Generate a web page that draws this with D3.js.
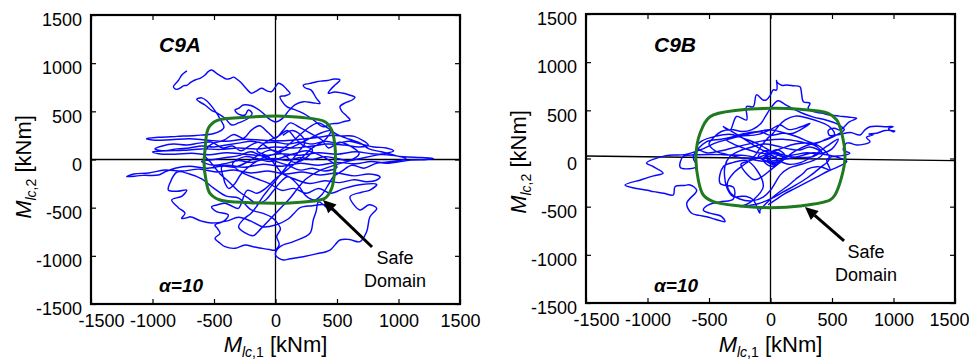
<!DOCTYPE html>
<html>
<head>
<meta charset="utf-8">
<script src="https://cdn.jsdelivr.net/npm/d3@7"></script>
<style>
body { margin: 0; background: #fff; }
text { font-family: "Liberation Sans", Arial, sans-serif; fill: #000; }
</style>
</head>
<body>
<svg id="chart" width="969" height="361"></svg>
<script>
// axis ticks (kNm)
const ticks = [-1500, -1000, -500, 0, 500, 1000, 1500];

const c9aPath = [
 [-720,920],[-760,880],[-790,820],[-830,755],[-805,728],[-770,745],[-750,765],[-720,770],[-690,800],[-654,825],[-610,845],[-573,877],[-545,915],[-519,929],[-480,895],[-437,860],[-400,835],[-370,840],[-340,855],[-310,830],[-275,791],[-240,740],[-210,700],[-194,687],[-150,715],[-112,739],[-70,712],[-31,704],[-5,745],[23,791],[60,770],[90,730],[118,687],[80,662],[37,652],[55,600],[91,548],[150,520],[226,479],[300,420],[389,340],[450,370],[511,376],[560,395],[606,410],[580,450],[540,500],[524,548],[570,590],[620,615],[646,646],[600,670],[540,690],[480,700],[429,687],[450,730],[490,780],[524,825],[480,835],[420,820],[380,815],[335,808],[280,790],[226,773],[240,745],[290,720],[330,640],[362,583],[300,590],[226,600],[160,570],[110,510],[60,430],[0,390],[-60,430],[-100,480],[-140,520],[-200,560],[-262,566],[-300,530],[-329,514],[-300,470],[-248,462],[-221,514],[-190,480],[-230,420],[-300,380],[-356,358],[-410,428],[-470,480],[-520,510],[-573,566],[-620,600],[-641,625],[-600,640],[-560,610],[-500,520],[-450,420],[-420,330],[-500,270],[-650,250],[-800,240],[-950,230],[-1049,216],[-980,200],[-850,205],[-700,215],[-550,200],[-400,190],[-250,210],[-100,200],[50,195],[200,210],[350,230],[450,250],[550,245],[640,240],[754,150],[680,130],[560,150],[420,160],[300,140],[150,120],[0,130],[-150,110],[-300,120],[-450,105],[-600,110],[-750,95],[-880,90],[-1000,80],[-950,60],[-820,55],[-680,65],[-540,50],[-400,70],[-250,55],[-100,40],[50,60],[200,45],[350,70],[500,55],[650,80],[780,60],[900,50],[1040,29],[1180,20],[1284,10],[1230,0],[1100,-5],[904,-39],[780,-20],[650,-45],[500,-30],[350,-60],[200,-40],[50,-70],[-100,-50],[-250,-80],[-400,-60],[-550,-90],[-700,-70],[-817,-91],[-900,-130],[-953,-161],[-1080,-165],[-1210,-178],[-1150,-150],[-1030,-140],[-900,-110],[-760,-120],[-620,-100],[-480,-130],[-340,-110],[-200,-140],[-60,-120],[80,-150],[220,-130],[360,-160],[500,-140],[640,-170],[760,-150],[850,-180],[823,-213],[740,-230],[640,-210],[520,-240],[400,-220],[280,-250],[150,-200],[60,-150],[0,-60],[-60,30],[-150,90],[-80,180],[20,240],[100,300],[160,220],[220,150],[300,100],[250,20],[150,-30],[80,40],[-30,100],[-120,60],[-220,-20],[-330,-80],[-437,-75],[-420,-200],[-410,-247],[-380,-300],[-330,-250],[-280,-150],[-200,-60],[-100,20],[0,60],[120,120],[250,200],[380,280],[450,300],[400,200],[300,120],[200,0],[100,-100],[0,-200],[-80,-300],[-150,-350],[-230,-320],[-302,-507],[-360,-480],[-410,-455],[-470,-470],[-519,-490],[-480,-540],[-384,-576],[-420,-640],[-492,-680],[-470,-720],[-451,-766],[-492,-818],[-450,-870],[-410,-905],[-329,-922],[-248,-888],[-180,-905],[-112,-922],[-50,-935],[-4,-940],[30,-880],[10,-800],[40,-720],[10,-650],[-30,-600],[-100,-560],[-200,-520],[-300,-400],[-400,-380],[-500,-300],[-600,-200],[-700,-150],[-800,-130],[-860,-250],[-871,-317],[-800,-330],[-722,-317],[-760,-380],[-844,-420],[-790,-500],[-736,-558],[-763,-610],[-720,-605],[-695,-594],[-600,-640],[-520,-660],[-400,-640],[-300,-600],[-200,-640],[-100,-700],[0,-680],[100,-620],[150,-560],[200,-500],[300,-480],[400,-470],[498,-542],[420,-500],[350,-440],[330,-540],[307,-628],[280,-766],[150,-850],[37,-905],[0,-990],[63,-1043],[120,-1030],[226,-1009],[330,-980],[443,-940],[524,-836],[600,-830],[687,-853],[741,-750],[768,-594],[823,-507],[760,-470],[687,-524],[606,-386],[700,-340],[768,-317],[823,-260],[700,-260],[560,-300],[450,-350],[350,-300],[250,-350],[150,-300],[50,-320],[-50,-250],[-150,-200],[-250,-150],[-350,-50],[-250,30],[-150,10],[-50,-20],[50,20],[150,60],[250,90],[350,50],[450,-20],[500,-80],[400,-120],[300,-90],[200,-110],[100,-60],[0,-20],[-100,30],[-200,80],[-300,40],[-400,20],[-500,0],[-600,-20],[-500,-60],[-400,-40],[-300,-10],[-200,-30],[-100,0],[0,10],[100,-10],[200,20],[300,0],[400,30],[500,10],[600,-10],
 [680,60],[620,130],[520,180],[430,120],[380,200],[300,260],[200,330],[120,380],[60,300],[0,220],[-60,280],[-130,350],[-200,300],[-260,220],[-340,260],[-420,200],[-520,160],[-580,60],[-520,-40],[-450,-150],[-380,-230],[-300,-330],[-220,-400],[-150,-460],[-80,-420],[-20,-330],[30,-250],[100,-180],[180,-260],[250,-380],[320,-420],[380,-360],[430,-260],[470,-180],[540,-120],[620,-60],[720,-90],[820,-40],[950,-20],[1060,10],[980,40],[860,80],[760,110],[690,170],[600,210],[500,260],[420,330],[350,380],[280,340],[220,280],[150,200],[80,130],[10,80],[-60,120],[-130,180],[-200,150],[-280,90],[-350,140],[-430,120],[-520,180],[-620,170],[-720,150],[-830,160],[-920,140],[-980,110],[-900,90],[-800,110],[-700,120],[-600,140],[-500,130],[-400,150],[-300,170],[-200,190],[-100,170],[0,180],[100,160],[200,180],[300,160],[400,190],[500,170],[600,190],[700,160],[800,130],[900,120],[960,90],[800,40],[650,0],[500,-50],[350,-120],[250,-200],[180,-300],[120,-400],[60,-480],[0,-560],[-60,-640],[-120,-720],[-180,-790],[-250,-760],[-300,-700],[-260,-620],[-200,-560],[-150,-480],[-100,-380],[-50,-300],[0,-220],[50,-140],[100,-60],[150,20],[200,100],[240,180],[200,260],[130,300],[60,250]
];

const c9bPath = [
 [0,0],[60,40],[-40,80],[-100,20],[50,-40],[120,30],[-20,60],[-150,150],[-260,240],[-385,332],[-329,296],[-276,436],[-194,400],[-195,540],[-140,538],[-114,661],[-59,607],[-33,609],[0,660],[22,713],[50,711],[49,810],[50,797],[90,760],[132,763],[185,755],[240,745],[252,680],[267,590],[321,573],[306,522],[348,486],[415,471],[484,452],[560,440],[630,430],[701,417],[640,380],[565,296],[520,315],[470,290],[480,240],[560,250],[650,270],[728,244],[770,300],[809,330],[870,335],[940,330],[997,332],[960,310],[998,278],[1011,285],[930,290],[863,262],[800,255],[835,246],[780,220],[809,174],[700,140],[645,160],[618,159],[592,88],[645,55],[580,30],[500,20],[457,-16],[484,-119],[420,-90],[375,-85],[300,-110],[267,-154],[200,-220],[132,-293],[80,-340],[23,-397],[-30,-460],[-85,-535],[-87,-567],[-141,-429],[-195,-394],[-249,-394],[-304,-394],[-358,-290],[-371,-83],[-330,20],[-250,80],[-150,120],[-50,150],[50,130],[150,100],[240,88],[320,120],[402,71],[347,21],[250,10],[157,21],[80,40],[20,10],[-30,-30],[40,-60],[100,0],[60,60],[-20,40],[-60,-10],[0,-80],[80,-40],[120,30],[50,90],[-10,50],[-50,0],[-200,30],[-400,40],[-600,38],[-710,21],[-737,-83],[-722,-102],[-600,-85],[-628,19],[-519,174],[-400,200],[-302,226],[-200,250],[-85,278],[0,240],[100,262],[185,262],[321,365],[250,330],[150,300],[77,348],[0,300],[-100,250],[-250,230],[-358,194],[-450,160],[-550,100],[-700,40],[-850,30],[-1008,-48],[-960,-80],[-873,-152],[-950,-180],[-1050,-220],[-1183,-275],[-1102,-309],[-1000,-330],[-953,-344],[-870,-360],[-790,-379],[-776,-293],[-700,-280],[-654,-275],[-600,-330],[-681,-465],[-641,-569],[-580,-590],[-519,-604],[-450,-630],[-370,-656],[-400,-600],[-493,-567],[-546,-535],[-500,-480],[-410,-450],[-302,-420],[-300,-300],[-410,-257],[-384,-85],[-300,-40],[-200,-20],[-112,-119],[-59,-293],[-140,-431],[-200,-480],[-250,-500],[-100,-470],[0,-420],[100,-350],[200,-280],[300,-200],[400,-100],[480,0],[401,125],[300,180],[211,228],[100,270],[-5,298],[-100,280],[-195,263],[-300,230],[-358,194],[-300,150],[-200,100],[-100,60],[0,40],[60,-20],[30,-50],[-30,0],[10,30],[50,-10],[150,-60],[250,-40],[350,30],[455,125],[550,200],[500,100],[400,50],[300,60],[200,40],[100,20],
 [0,80],[-100,150],[-200,200],[-320,250],[-450,230],[-560,180],[-600,120],[-520,60],[-400,80],[-280,120],[-150,160],[-30,190],[100,200],[220,180],[350,150],[450,200],[520,250],[480,330],[400,380],[300,420],[200,440],[120,400],[60,330],[20,260],[-30,200],[-80,120],[-120,40],[-200,-50],[-300,-150],[-350,-250],[-330,-350],[-250,-420],[-150,-440],[-60,-400],[0,-330],[40,-250],[80,-170],[150,-100],[250,-60],[350,-20],[420,40],[380,120],[300,160],[200,150],[100,110],[0,60],[-80,20],[-160,-20],[-240,-60],[-200,-150],[-130,-220],[-60,-180],[0,-120],[60,-60],[120,0],[180,60],[250,110],[330,150],[420,180],[500,220],[560,260],[600,300],[540,360],[450,400],[350,430],[260,470],[180,520],[120,560],[60,600],[0,520],[-40,440],[-80,360],[-150,300],[-230,280],[-320,300],[-400,280],[-460,220],[-500,150],[-450,80],[-350,40],[-250,10],[-150,-10],[-50,-30],[50,-20],[150,0],[250,30],[350,60],[450,40],[550,10],[620,-30],[560,-80],[470,-130],[380,-190],[290,-250],[200,-310],[110,-370],[40,-430],[-20,-480]
];

// safe domain outlines
const c9aSafe = [[-478,403],[-546,324],[-573,99],[-581,-39],[-565,-213],[-533,-351],[-451,-420],[-207,-448],[10,-455],[254,-438],[402,-403],[457,-299],[484,-75],[484,133],[457,306],[402,392],[199,438],[10,452],[-234,438]];
const c9bSafe = [[-492,434],[-573,262],[-606,19],[-587,-223],[-546,-379],[-465,-448],[-248,-493],[4,-511],[240,-493],[484,-431],[524,-379],[579,-189],[606,19],[579,262],[538,400],[470,469],[240,511],[4,521],[-248,503]];

// zero lines (the C9B horizontal one is slightly tilted in the original)
const c9aZero = [[-1500,0],[1500,0]];
const c9bZero = [[-1500,26],[1500,-23]];

// "Safe Domain" arrows: [tail, tip]
const c9aArrow = [[785,-908],[386,-420]];
const c9bArrow = [[598,-856],[280,-503]];

const panels = [
    {name: "C9A", ox: 91, oy: 15, path: c9aPath, safe: c9aSafe, zero: c9aZero, arrow: c9aArrow,
     labelX: 395, labelY: 264, ylabY: 167},
    {name: "C9B", ox: 586, oy: 14, path: c9bPath, safe: c9bSafe, zero: c9bZero, arrow: c9bArrow,
     labelX: 866, labelY: 258, ylabY: 162}
];

const W = 369, H = 289;
const svg = d3.select("#chart");

panels.forEach((p, pi) => {
    const x = d3.scaleLinear().domain([-1500, 1500]).range([0, W]);
    const y = d3.scaleLinear().domain([-1500, 1500]).range([H, 0]);
    const g = svg.append("g").attr("transform", `translate(${p.ox},${p.oy})`);

    const line = d3.line().x(d => x(d[0])).y(d => y(d[1]));

    // zero lines
    g.append("path").attr("d", line(p.zero))
        .attr("stroke", "#000").attr("stroke-width", 1.3).attr("fill", "none");
    g.append("path").attr("d", line([[0, -1500], [0, 1500]]))
        .attr("stroke", "#000").attr("stroke-width", 1.3).attr("fill", "none");

    // trajectory
    g.append("path")
        .attr("d", d3.line().x(d => x(d[0])).y(d => y(d[1])).curve(d3.curveCatmullRom.alpha(0.5))(p.path))
        .attr("fill", "none").attr("stroke", "#0808ff").attr("stroke-width", 1.45)
        .attr("stroke-linejoin", "round");

    // safe domain
    g.append("path")
        .attr("d", d3.line().x(d => x(d[0])).y(d => y(d[1])).curve(d3.curveCatmullRomClosed.alpha(0.5))(p.safe))
        .attr("fill", "none").attr("stroke", "#1f7a1f").attr("stroke-width", 3);

    // axes with inward ticks
    const fmt = d => String(d);
    const bottom = g.append("g").attr("transform", `translate(0,${H})`)
        .call(d3.axisBottom(x).tickValues(ticks).tickSize(-5).tickPadding(10).tickFormat(fmt));
    const left = g.append("g")
        .call(d3.axisLeft(y).tickValues(ticks).tickSize(-5).tickPadding(9).tickFormat(fmt));
    g.append("g").call(d3.axisTop(x).tickValues(ticks).tickSize(-5).tickFormat(""));
    g.append("g").attr("transform", `translate(${W},0)`)
        .call(d3.axisRight(y).tickValues(ticks).tickSize(-5).tickFormat(""));
    g.selectAll(".domain").remove();
    g.selectAll(".tick line").attr("stroke", "#000").attr("stroke-width", 1.2);
    [bottom, left].forEach(a => a.selectAll("text")
        .attr("font-family", "'Liberation Sans', Arial, sans-serif")
        .attr("font-size", 18).attr("fill", "#000"));
    left.selectAll("text").attr("dy", "0.6em");
    // the first x label is pushed right of its tick in the original
    bottom.selectAll("text").filter(d => d === -1500).attr("x", 10);
    // last x label sits against the window edge in the original
    if (pi === 1) bottom.selectAll("text").filter(d => d === 1500)
        .attr("text-anchor", "end").attr("x", 14);

    // frame
    g.append("rect").attr("width", W).attr("height", H)
        .attr("fill", "none").attr("stroke", "#000").attr("stroke-width", 2.2);

    // arrow
    const [tail, tip] = p.arrow.map(d => [x(d[0]), y(d[1])]);
    const ang = Math.atan2(tip[1] - tail[1], tip[0] - tail[0]);
    const hl = 13, hw = 6;
    const bx = tip[0] - hl * Math.cos(ang), by = tip[1] - hl * Math.sin(ang);
    g.append("line").attr("x1", tail[0]).attr("y1", tail[1]).attr("x2", bx).attr("y2", by)
        .attr("stroke", "#000").attr("stroke-width", 3);
    g.append("polygon")
        .attr("points", [tip,
            [bx + hw * Math.sin(ang), by - hw * Math.cos(ang)],
            [bx - hw * Math.sin(ang), by + hw * Math.cos(ang)]].map(d => d.join(",")).join(" "))
        .attr("fill", "#000");

    // panel texts
    svg.append("text").attr("x", p.ox + 68).attr("y", 52)
        .attr("font-size", 21).attr("font-weight", "bold").attr("font-style", "italic")
        .text(p.name);
    svg.append("text").attr("x", p.ox + 68).attr("y", 292)
        .attr("font-size", 19).attr("font-weight", "bold").attr("font-style", "italic")
        .text("\u03b1=10");
    const sd = svg.append("text").attr("text-anchor", "middle").attr("font-size", 18);
    sd.append("tspan").attr("x", p.labelX).attr("y", p.labelY).text("Safe");
    sd.append("tspan").attr("x", p.labelX).attr("y", p.labelY + 23).text("Domain");

    // axis labels
    const addLabel = (sel, sub) => {
        sel.append("tspan").attr("font-style", "italic").text("M");
        sel.append("tspan").attr("font-style", "italic").attr("font-size", 14).attr("dy", 5).text("lc");
        sel.append("tspan").attr("font-size", 14).text("," + sub);
        sel.append("tspan").attr("dy", -5).text(" [kNm]");
    };
    const xl = svg.append("text").attr("x", p.ox + W / 2).attr("y", 352)
        .attr("text-anchor", "middle").attr("font-size", 22);
    addLabel(xl, "1");
    const yl = svg.append("text")
        .attr("transform", `translate(${p.ox - 60},${p.ylabY}) rotate(-90)`)
        .attr("text-anchor", "middle").attr("font-size", 22);
    addLabel(yl, "2");
});
</script>
</body>
</html>
